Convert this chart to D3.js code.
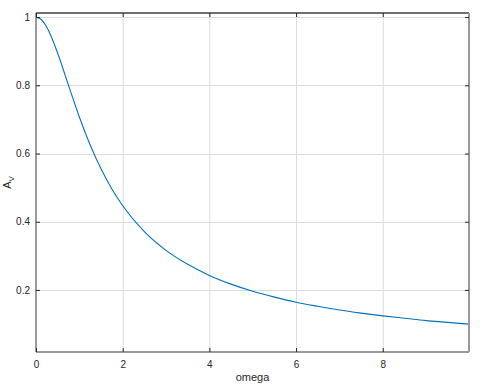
<!DOCTYPE html>
<html><head><meta charset="utf-8">
<script src="https://cdn.jsdelivr.net/npm/d3@7"></script>
<style>body{margin:0;background:#fff}svg{display:block}text{font-family:"Liberation Sans",Arial,sans-serif;fill:#262626}</style>
</head><body><svg id="c" width="487" height="384"></svg>
<script>
const omega = [0,0.1,0.25,0.5,0.75,1,1.25,1.5,1.75,2,2.5,3,3.5,4,4.5,5,5.5,6,6.5,7,7.5,8,8.5,9,9.5,9.99];
const av = [1,0.995,0.970,0.894,0.800,0.707,0.625,0.555,0.496,0.447,0.371,0.316,0.275,0.2425,0.217,0.196,0.179,0.164,0.152,0.141,0.132,0.124,0.117,0.110,0.105,0.0996];
const xTicks = [0,2,4,6,8];
const yTicks = [0.2,0.4,0.6,0.8,1];
const xLabel = "omega";

const L=36,R=469,T=13,B=352;
const svg=d3.select("#c");
const x=d3.scaleLinear().domain([0,9.99]).range([L,R]);
const y=d3.scaleLinear().domain([0.018,1.012]).range([B,T]);
// grid
svg.append("g").selectAll("line").data(xTicks.slice(1)).join("line")
 .attr("x1",d=>x(d)+0.5).attr("x2",d=>x(d)+0.5).attr("y1",T).attr("y2",B).attr("stroke","#dcdcdc").attr("stroke-width",1);
svg.append("g").selectAll("line").data(yTicks).join("line")
 .attr("y1",d=>Math.round(y(d))+0.5).attr("y2",d=>Math.round(y(d))+0.5).attr("x1",L).attr("x2",R).attr("stroke","#dcdcdc").attr("stroke-width",1);
// curve
const pts=omega.map((o,i)=>[o,av[i]]);
svg.append("path").datum(pts).attr("fill","none").attr("stroke","#0072BD").attr("stroke-width",1.1)
 .attr("d",d3.line().x(d=>x(d[0])).y(d=>y(d[1])).curve(d3.curveMonotoneX));
// box
svg.append("line").attr("x1",L).attr("x2",R).attr("y1",T).attr("y2",T).attr("stroke","#404040").attr("stroke-width",1.5);
svg.append("line").attr("x1",L).attr("x2",R).attr("y1",B).attr("y2",B).attr("stroke","#9a9a9a").attr("stroke-width",2);
svg.append("line").attr("x1",L).attr("x2",L).attr("y1",T).attr("y2",B).attr("stroke","#9a9a9a").attr("stroke-width",2);
svg.append("line").attr("x1",R).attr("x2",R).attr("y1",T).attr("y2",B).attr("stroke","#9a9a9a").attr("stroke-width",2);
// axes ticks (inward) via d3 axes
const xb=svg.append("g").attr("transform",`translate(0,${B})`).call(d3.axisBottom(x).tickValues(xTicks).tickSizeInner(-4).tickSizeOuter(0).tickPadding(9).tickFormat(d3.format("d")));
const xt=svg.append("g").attr("transform",`translate(0,${T})`).call(d3.axisTop(x).tickValues(xTicks).tickSizeInner(-4).tickSizeOuter(0).tickFormat(""));
const yl=svg.append("g").attr("transform",`translate(${L},0)`).call(d3.axisLeft(y).tickValues(yTicks).tickSizeInner(-4).tickSizeOuter(0).tickPadding(6).tickFormat(d=>d===1?"1":d3.format(".1f")(d)));
const yr=svg.append("g").attr("transform",`translate(${R},0)`).call(d3.axisRight(y).tickValues(yTicks).tickSizeInner(-4).tickSizeOuter(0).tickFormat(""));
[xb,xt,yl,yr].forEach(g=>{g.select(".domain").remove();g.selectAll(".tick line").attr("stroke","#262626");g.selectAll("text").attr("font-size",10).attr("fill","#262626").attr("font-family","Liberation Sans, Arial, sans-serif");});
// labels
svg.append("text").attr("x",(L+R)/2).attr("y",381).attr("text-anchor","middle").attr("font-size",11).text(xLabel);
const yt=svg.append("text").attr("transform",`translate(11,${(T+B)/2}) rotate(-90)`).attr("text-anchor","middle").attr("font-size",11);
yt.append("tspan").text("A");
yt.append("tspan").attr("font-size",8).attr("dy",3).text("V");
</script></body></html>
